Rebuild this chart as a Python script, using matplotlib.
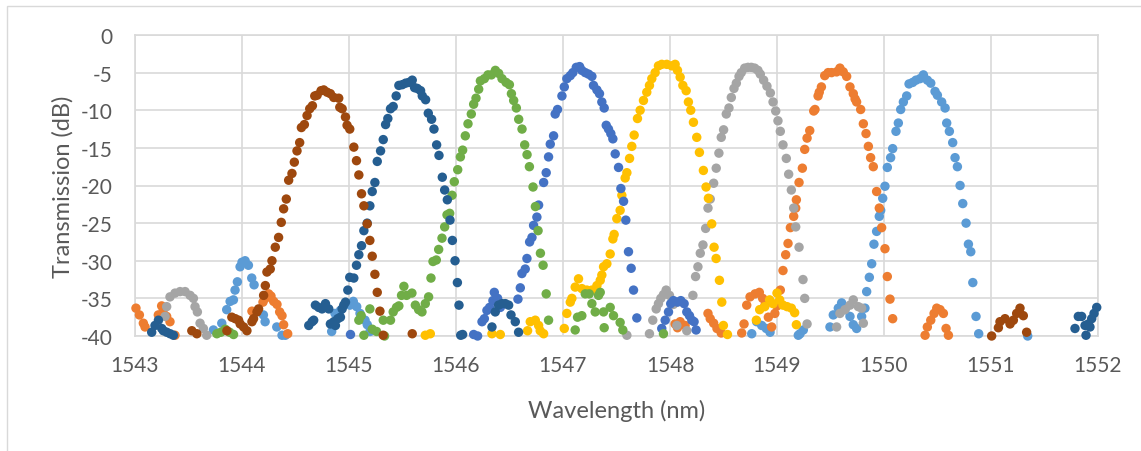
import matplotlib.pyplot as plt
import numpy as np
from matplotlib.patches import Rectangle

plt.rcParams["font.family"] = ["Lato", "DejaVu Sans"]
plt.rcParams["axes.unicode_minus"] = False

# Each channel: (wavelength nm, transmission dB) samples
ch8 = np.array([  # 1550.4 nm
    (1543.733, -39.2), (1543.811, -38.3), (1543.857, -36.5), (1543.889, -35.4),
    (1543.920, -35.2), (1543.935, -33.9), (1543.957, -32.8), (1543.982, -30.8),
    (1544.000, -30.2), (1544.029, -30.0), (1544.060, -30.6), (1544.091, -32.3),
    (1544.113, -33.2), (1544.200, -37.2), (1544.216, -38.1), (1544.325, -38.8),
    (1544.374, -39.9), (1544.405, -39.9), (1544.838, -39.4), (1544.869, -37.0),
    (1544.920, -36.6), (1545.009, -35.9), (1545.040, -35.4), (1545.072, -36.1),
    (1545.103, -37.0), (1545.150, -37.9), (1545.171, -38.5), (1545.196, -39.4),
    (1548.764, -39.7), (1548.810, -38.1), (1548.857, -38.6), (1548.900, -39.0),
    (1548.935, -39.5), (1549.199, -39.9), (1549.215, -39.7), (1549.246, -39.2),
    (1549.495, -38.8), (1549.526, -37.2), (1549.573, -36.3), (1549.604, -35.6),
    (1549.635, -36.5), (1549.682, -37.4), (1549.713, -38.5), (1549.744, -39.0),
    (1549.791, -37.4), (1549.822, -36.3), (1549.838, -34.1), (1549.863, -32.2),
    (1549.885, -30.4), (1549.906, -27.8), (1549.931, -26.1), (1549.956, -24.1),
    (1549.969, -23.3), (1549.988, -21.7), (1550.009, -20.1), (1550.031, -17.6),
    (1550.062, -16.3), (1550.081, -15.1), (1550.112, -12.8), (1550.134, -11.7),
    (1550.156, -9.9), (1550.181, -8.9), (1550.212, -8.1), (1550.234, -6.5),
    (1550.268, -6.3), (1550.299, -6.0), (1550.337, -5.8), (1550.368, -5.3),
    (1550.405, -6.0), (1550.437, -6.4), (1550.477, -7.5), (1550.499, -8.0),
    (1550.539, -8.9), (1550.571, -9.7), (1550.586, -11.7), (1550.611, -12.8),
    (1550.642, -14.3), (1550.664, -16.3), (1550.686, -17.5), (1550.711, -20.0),
    (1550.736, -22.4), (1550.767, -25.0), (1550.789, -27.8), (1550.811, -28.8),
    (1550.830, -32.9), (1550.860, -37.4), (1550.885, -39.7), (1551.343, -40.0),
])

ch7 = np.array([  # 1549.6 nm
    (1543.009, -36.3), (1543.041, -37.2), (1543.078, -38.3), (1543.094, -38.8),
    (1543.218, -37.2), (1543.249, -36.0), (1543.265, -36.5), (1543.296, -37.4),
    (1543.327, -38.1), (1543.374, -39.9), (1544.093, -36.7), (1544.196, -35.5),
    (1544.218, -35.0), (1544.249, -34.4), (1544.271, -34.7), (1544.296, -35.4),
    (1544.327, -35.8), (1544.352, -36.8), (1544.374, -37.3), (1544.389, -38.5),
    (1544.427, -39.7), (1548.048, -38.4), (1548.070, -38.9), (1548.095, -38.1),
    (1548.141, -38.6), (1548.355, -37.0), (1548.376, -37.7), (1548.408, -38.3),
    (1548.439, -39.0), (1548.479, -39.6), (1548.670, -39.6), (1548.692, -38.4),
    (1548.717, -35.9), (1548.748, -34.8), (1548.795, -34.4), (1548.835, -34.2),
    (1548.866, -35.0), (1548.888, -35.9), (1548.919, -37.5), (1548.950, -38.8),
    (1548.980, -37.0), (1549.000, -36.0), (1549.031, -33.9), (1549.056, -31.3),
    (1549.081, -29.2), (1549.103, -27.7), (1549.125, -25.6), (1549.156, -24.1),
    (1549.175, -23.0), (1549.181, -21.9), (1549.206, -19.6), (1549.237, -17.7),
    (1549.259, -15.2), (1549.281, -13.7), (1549.306, -12.7), (1549.343, -10.1),
    (1549.355, -9.9), (1549.384, -8.1), (1549.395, -7.6), (1549.415, -6.9),
    (1549.446, -5.4), (1549.478, -5.0), (1549.510, -5.0), (1549.557, -4.9),
    (1549.588, -4.4), (1549.619, -4.9), (1549.651, -5.5), (1549.682, -6.9),
    (1549.713, -7.8), (1549.730, -8.5), (1549.744, -8.9), (1549.782, -9.9),
    (1549.807, -11.8), (1549.832, -13.1), (1549.854, -14.8), (1549.875, -16.3),
    (1549.900, -17.5), (1549.931, -20.8), (1549.956, -23.0), (1549.978, -25.6),
    (1550.009, -28.4), (1550.031, -32.1), (1550.056, -35.1), (1550.081, -37.7),
    (1550.384, -39.9), (1550.405, -38.8), (1550.437, -37.9), (1550.468, -37.0),
    (1550.493, -36.3), (1550.524, -36.5), (1550.555, -37.0), (1550.580, -39.0),
    (1550.602, -39.9),
])

ch6 = np.array([  # 1548.8 nm
    (1543.281, -37.4), (1543.296, -36.1), (1543.327, -34.8), (1543.374, -34.3),
    (1543.421, -34.1), (1543.468, -34.1), (1543.515, -34.6), (1543.546, -35.0),
    (1543.561, -36.1), (1543.583, -36.8), (1543.608, -38.3), (1543.639, -39.0),
    (1543.670, -39.9), (1547.597, -39.9), (1547.808, -39.7), (1547.839, -37.9),
    (1547.871, -36.4), (1547.892, -35.7), (1547.914, -35.0), (1547.939, -34.5),
    (1547.964, -33.9), (1547.995, -34.6), (1548.032, -35.8), (1548.064, -38.6),
    (1548.157, -39.3), (1548.214, -34.6), (1548.239, -32.1), (1548.261, -30.8),
    (1548.283, -29.0), (1548.308, -27.9), (1548.333, -25.7), (1548.355, -23.0),
    (1548.376, -21.8), (1548.408, -19.7), (1548.432, -17.7), (1548.457, -15.7),
    (1548.479, -13.6), (1548.501, -12.6), (1548.526, -10.5), (1548.551, -9.7),
    (1548.573, -8.3), (1548.598, -7.1), (1548.620, -6.4), (1548.645, -5.5),
    (1548.666, -5.0), (1548.698, -4.4), (1548.729, -4.3), (1548.760, -4.3),
    (1548.791, -4.4), (1548.822, -4.7), (1548.844, -5.2), (1548.875, -6.0),
    (1548.906, -6.8), (1548.938, -7.7), (1548.963, -8.9), (1548.988, -10.1),
    (1549.009, -11.4), (1549.031, -12.8), (1549.056, -14.6), (1549.087, -16.4),
    (1549.109, -18.5), (1549.134, -20.6), (1549.156, -23.0), (1549.175, -25.5),
    (1549.206, -28.2), (1549.243, -32.5), (1549.259, -35.0), (1549.281, -38.4),
    (1549.557, -38.8), (1549.588, -37.0), (1549.635, -36.5), (1549.682, -35.9),
    (1549.713, -35.2), (1549.760, -36.1), (1549.791, -36.3), (1549.807, -38.3),
])

ch5 = np.array([  # 1547.95 nm
    (1545.713, -39.9), (1545.760, -39.7), (1546.336, -39.7), (1546.414, -39.8),
    (1546.669, -39.3), (1546.694, -38.1), (1546.741, -37.9), (1546.772, -38.6),
    (1546.787, -39.3), (1546.819, -39.7), (1547.012, -39.0), (1547.036, -37.0),
    (1547.068, -35.5), (1547.083, -35.0), (1547.114, -33.5), (1547.145, -32.4),
    (1547.176, -33.7), (1547.223, -33.9), (1547.270, -33.9), (1547.317, -33.3),
    (1547.348, -32.6), (1547.363, -31.9), (1547.379, -30.8), (1547.410, -30.4),
    (1547.441, -29.1), (1547.466, -27.1), (1547.478, -26.5), (1547.503, -24.4),
    (1547.534, -23.3), (1547.550, -21.3), (1547.581, -19.0), (1547.597, -18.3),
    (1547.622, -16.4), (1547.643, -14.8), (1547.665, -13.3), (1547.696, -11.1),
    (1547.721, -10.0), (1547.752, -8.7), (1547.783, -7.6), (1547.808, -6.7),
    (1547.830, -5.8), (1547.861, -5.0), (1547.892, -4.1), (1547.923, -3.9),
    (1547.970, -3.9), (1548.017, -4.1), (1548.048, -3.9), (1548.070, -4.7),
    (1548.095, -5.6), (1548.120, -6.7), (1548.151, -7.4), (1548.172, -8.9),
    (1548.194, -10.0), (1548.219, -11.6), (1548.250, -13.6), (1548.275, -15.6),
    (1548.312, -18.0), (1548.337, -20.2), (1548.359, -21.7), (1548.390, -25.1),
    (1548.412, -28.2), (1548.431, -29.7), (1548.462, -32.6), (1548.484, -35.5),
    (1548.499, -38.6), (1548.537, -39.8), (1548.807, -37.9), (1548.838, -36.5),
    (1548.885, -36.1), (1548.931, -35.2), (1548.963, -35.7), (1549.000, -34.3),
    (1549.025, -35.2), (1549.056, -35.9), (1549.094, -36.1), (1549.134, -36.3),
    (1549.165, -36.9), (1549.181, -38.5),
])

ch4 = np.array([  # 1547.15 nm
    (1545.014, -39.8), (1546.165, -39.8), (1546.202, -40.0), (1546.243, -38.1),
    (1546.265, -37.7), (1546.289, -36.6), (1546.314, -36.2), (1546.345, -35.3),
    (1546.358, -34.2), (1546.389, -35.0), (1546.414, -36.2), (1546.579, -35.1),
    (1546.601, -33.6), (1546.616, -31.7), (1546.647, -31.1), (1546.663, -29.7),
    (1546.688, -27.5), (1546.710, -26.9), (1546.725, -25.3), (1546.756, -24.2),
    (1546.772, -22.6), (1546.819, -19.6), (1546.843, -18.3), (1546.865, -16.2),
    (1546.881, -14.5), (1546.912, -13.4), (1546.927, -10.5), (1546.949, -9.9),
    (1546.990, -8.1), (1547.012, -6.9), (1547.036, -5.8), (1547.068, -5.4),
    (1547.092, -5.0), (1547.124, -4.3), (1547.155, -4.2), (1547.176, -4.7),
    (1547.208, -5.0), (1547.239, -5.2), (1547.270, -5.5), (1547.285, -6.7),
    (1547.317, -7.3), (1547.341, -7.8), (1547.363, -8.9), (1547.385, -9.7),
    (1547.404, -12.0), (1547.425, -12.5), (1547.447, -13.1), (1547.466, -13.8),
    (1547.488, -15.8), (1547.519, -17.6), (1547.541, -20.4), (1547.566, -22.1),
    (1547.587, -24.6), (1547.612, -28.8), (1547.637, -31.0), (1547.659, -33.9),
    (1547.690, -37.6), (1547.923, -39.0), (1547.955, -37.9), (1547.986, -36.8),
    (1548.007, -35.7), (1548.032, -35.3), (1548.070, -35.5), (1548.101, -35.3),
    (1548.132, -35.7), (1548.157, -36.8), (1548.182, -37.3), (1548.204, -37.9),
    (1548.225, -38.1), (1548.244, -39.2),
])

ch3 = np.array([  # 1546.4 nm
    (1543.765, -39.7), (1543.802, -39.5), (1543.843, -39.1), (1543.884, -39.5),
    (1543.921, -39.8), (1545.092, -37.9), (1545.114, -37.3), (1545.139, -39.9),
    (1545.195, -36.4), (1545.217, -39.1), (1545.258, -39.4), (1545.320, -37.9),
    (1545.332, -40.0), (1545.388, -37.9), (1545.413, -36.8), (1545.444, -36.2),
    (1545.466, -36.0), (1545.491, -34.6), (1545.513, -33.4), (1545.538, -34.6),
    (1545.588, -34.3), (1545.620, -35.9), (1545.651, -36.5), (1545.682, -36.8),
    (1545.713, -35.7), (1545.744, -34.8), (1545.766, -32.3), (1545.785, -30.1),
    (1545.816, -29.9), (1545.838, -28.5), (1545.869, -27.0), (1545.894, -25.5),
    (1545.916, -23.9), (1545.941, -23.7), (1545.963, -21.3), (1545.984, -19.5),
    (1546.016, -17.9), (1546.041, -16.2), (1546.062, -15.3), (1546.087, -13.4),
    (1546.112, -11.8), (1546.143, -10.5), (1546.165, -9.2), (1546.187, -8.4),
    (1546.212, -7.2), (1546.228, -6.1), (1546.265, -5.8), (1546.299, -5.3),
    (1546.331, -5.3), (1546.368, -4.7), (1546.399, -5.1), (1546.430, -5.8),
    (1546.468, -6.3), (1546.499, -6.6), (1546.518, -7.8), (1546.539, -8.7),
    (1546.564, -9.7), (1546.586, -11.2), (1546.617, -12.5), (1546.642, -14.6),
    (1546.664, -15.9), (1546.686, -17.5), (1546.720, -20.2), (1546.742, -22.8),
    (1546.767, -26.0), (1546.789, -29.0), (1546.814, -30.6), (1546.843, -34.4),
    (1546.865, -37.9), (1547.114, -39.2), (1547.136, -37.5), (1547.176, -37.3),
    (1547.208, -34.4), (1547.245, -34.4), (1547.270, -35.7), (1547.301, -36.8),
    (1547.332, -34.6), (1547.348, -34.2), (1547.379, -36.8), (1547.385, -38.9),
    (1547.441, -36.2), (1547.472, -37.3), (1547.534, -38.2), (1547.559, -39.2),
    (1547.939, -39.7),
])

ch2 = np.array([  # 1545.6 nm
    (1543.156, -39.5), (1543.187, -38.6), (1543.219, -37.9), (1543.250, -39.0),
    (1543.265, -39.3), (1543.297, -39.5), (1543.328, -39.7), (1543.359, -39.9),
    (1544.624, -38.6), (1544.655, -38.1), (1544.670, -37.9), (1544.686, -35.9),
    (1544.717, -36.2), (1544.748, -36.4), (1544.780, -35.7), (1544.811, -36.4),
    (1544.826, -38.4), (1544.858, -38.1), (1544.873, -38.6), (1544.895, -37.7),
    (1544.920, -37.5), (1544.936, -36.4), (1544.951, -35.9), (1544.967, -35.5),
    (1544.989, -33.9), (1545.007, -32.2), (1545.045, -32.3), (1545.070, -30.6),
    (1545.092, -29.2), (1545.117, -28.0), (1545.139, -26.0), (1545.170, -25.0),
    (1545.195, -22.7), (1545.217, -20.8), (1545.242, -19.6), (1545.264, -16.8),
    (1545.295, -15.4), (1545.320, -13.9), (1545.342, -11.9), (1545.363, -11.1),
    (1545.388, -9.8), (1545.413, -9.5), (1545.441, -8.1), (1545.466, -6.7),
    (1545.498, -6.6), (1545.529, -6.4), (1545.560, -6.3), (1545.591, -6.0),
    (1545.613, -7.0), (1545.638, -7.1), (1545.669, -7.4), (1545.685, -8.1),
    (1545.716, -8.6), (1545.741, -10.4), (1545.772, -11.2), (1545.794, -12.5),
    (1545.819, -14.6), (1545.841, -16.0), (1545.872, -18.9), (1545.894, -20.6),
    (1545.919, -21.9), (1545.944, -24.6), (1545.966, -27.3), (1545.991, -30.0),
    (1546.013, -32.9), (1546.028, -35.9), (1546.044, -39.9), (1546.062, -39.8),
    (1546.336, -38.8), (1546.367, -36.8), (1546.398, -35.9), (1546.430, -35.7),
    (1546.461, -35.7), (1546.492, -35.9), (1546.514, -37.2), (1546.554, -38.1),
    (1546.585, -39.5), (1551.785, -39.0), (1551.816, -37.4), (1551.847, -37.4),
    (1551.879, -38.6), (1551.888, -39.9), (1551.910, -38.4), (1551.925, -38.8),
    (1551.941, -37.7), (1551.963, -37.0), (1551.988, -36.2),
])

ch1 = np.array([  # 1544.8 nm
    (1543.531, -39.3), (1543.578, -39.7), (1543.859, -39.3), (1543.905, -37.5),
    (1543.937, -37.7), (1543.968, -37.9), (1543.983, -38.4), (1544.015, -38.8),
    (1544.046, -39.3), (1544.093, -38.1), (1544.108, -37.7), (1544.140, -36.8),
    (1544.155, -36.4), (1544.202, -34.6), (1544.218, -33.3), (1544.233, -31.5),
    (1544.264, -31.1), (1544.280, -30.0), (1544.311, -28.2), (1544.342, -26.9),
    (1544.367, -24.9), (1544.389, -23.1), (1544.414, -21.8), (1544.436, -19.3),
    (1544.467, -18.4), (1544.489, -16.9), (1544.514, -15.4), (1544.539, -14.3),
    (1544.555, -12.3), (1544.583, -11.9), (1544.608, -10.7), (1544.633, -9.8),
    (1544.658, -9.4), (1544.680, -8.1), (1544.702, -8.0), (1544.739, -7.4),
    (1544.764, -7.3), (1544.795, -7.6), (1544.826, -7.8), (1544.858, -8.3),
    (1544.904, -8.4), (1544.914, -9.6), (1544.936, -9.8), (1544.967, -10.9),
    (1544.982, -12.0), (1545.007, -12.5), (1545.045, -14.9), (1545.070, -16.7),
    (1545.092, -18.6), (1545.117, -21.1), (1545.139, -22.7), (1545.170, -25.1),
    (1545.195, -27.3), (1545.217, -29.4), (1545.242, -31.8), (1545.264, -34.2),
    (1545.289, -36.7), (1545.320, -39.9), (1545.591, -39.7), (1551.006, -40.0),
    (1551.069, -38.9), (1551.084, -38.1), (1551.131, -37.7), (1551.178, -38.4),
    (1551.209, -37.9), (1551.240, -37.0), (1551.271, -36.3), (1551.302, -37.3),
    (1551.333, -39.5),
])

# Drawn in this order so the shortest channel ends up on top
channels = [
    (ch8, "#5B9BD5"),
    (ch7, "#ED7D31"),
    (ch6, "#A5A5A5"),
    (ch5, "#FFC000"),
    (ch4, "#4472C4"),
    (ch3, "#70AD47"),
    (ch2, "#255E91"),
    (ch1, "#9E480E"),
]

W, H = 1141, 452
fig = plt.figure(figsize=(W / 100, H / 100), dpi=100)
# chart-area frame; only its top and left edges fall inside the image
fig.patches.append(Rectangle((7 / W, -10 / H), (W + 20) / W, (H + 3) / H,
                             transform=fig.transFigure, fill=False,
                             edgecolor="#D9D9D9", linewidth=1))

ax = fig.add_axes([135 / W, 115 / H, 963 / W, 301 / H])

for data, color in channels:
    ax.scatter(data[:, 0], data[:, 1], s=46, color=color,
               edgecolors="none", zorder=3, clip_on=False)

ax.set_xlim(1543, 1552)
ax.set_ylim(-40, 0)
ax.set_xticks(np.arange(1543, 1553))
ax.set_yticks(np.arange(-40, 1, 5))
ax.grid(True, color="#D9D9D9", linewidth=1.2)
ax.set_axisbelow(True)
for spine in ax.spines.values():
    spine.set_color("#D9D9D9")
    spine.set_linewidth(1.2)

ax.tick_params(length=0, labelsize=15, colors="#595959")
ax.tick_params(axis="x", pad=14)
ax.tick_params(axis="y", pad=16)
ax.set_xlabel("Wavelength (nm)", fontsize=17, color="#595959", labelpad=17)
ax.set_ylabel("Transmission (dB)", fontsize=17, color="#595959", labelpad=5)

fig.savefig("out.png", dpi=100)
